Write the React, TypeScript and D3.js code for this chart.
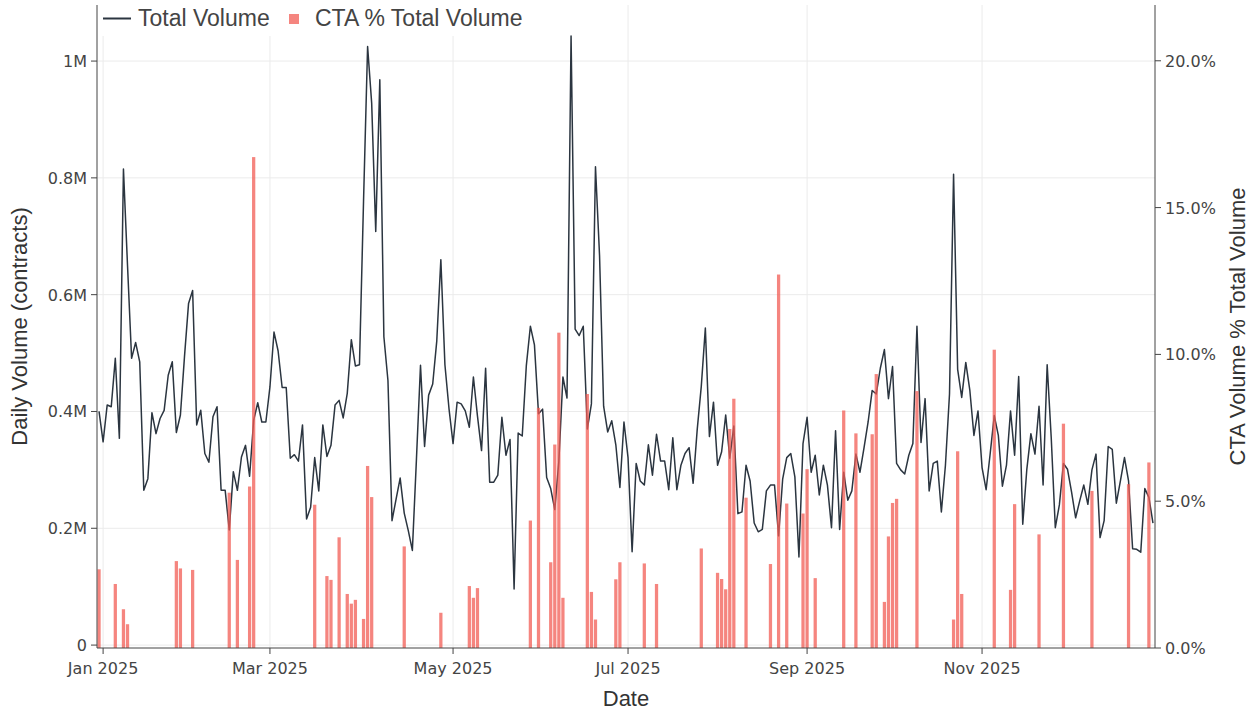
import React from "react";
import * as d3 from "d3";

// ---------- data ----------
const FIRST_DAY = new Date(2024, 11, 31);
const LAST_DAY = new Date(2025, 11, 29);
// weekday slots (weekends removed on the axis)
const tradingDays: Date[] = d3.timeDay
  .range(FIRST_DAY, d3.timeDay.offset(LAST_DAY, 1))
  .filter((d) => d.getDay() !== 0 && d.getDay() !== 6);

// Total daily volume, millions of contracts
const totalVolumeM: number[] = [
  0.400, 0.348, 0.411, 0.408, 0.491, 0.354, 0.815, 0.650, 0.491, 0.518,
  0.485, 0.265, 0.285, 0.398, 0.362, 0.388, 0.402, 0.462, 0.485, 0.364,
  0.394, 0.494, 0.585, 0.607, 0.377, 0.402, 0.328, 0.313, 0.391, 0.408,
  0.265, 0.265, 0.197, 0.297, 0.265, 0.322, 0.342, 0.289, 0.385, 0.415,
  0.382, 0.382, 0.442, 0.536, 0.504, 0.441, 0.441, 0.320, 0.326, 0.315,
  0.377, 0.216, 0.236, 0.321, 0.264, 0.377, 0.323, 0.342, 0.411, 0.419,
  0.389, 0.431, 0.523, 0.478, 0.480, 0.760, 1.025, 0.928, 0.708, 0.968,
  0.528, 0.453, 0.213, 0.250, 0.286, 0.226, 0.196, 0.162, 0.318, 0.479,
  0.340, 0.428, 0.447, 0.521, 0.660, 0.480, 0.405, 0.345, 0.416, 0.413,
  0.401, 0.373, 0.459, 0.392, 0.333, 0.474, 0.279, 0.279, 0.291, 0.390,
  0.325, 0.352, 0.096, 0.363, 0.358, 0.478, 0.546, 0.514, 0.396, 0.404,
  0.287, 0.268, 0.232, 0.315, 0.459, 0.423, 1.043, 0.541, 0.530, 0.546,
  0.370, 0.413, 0.819, 0.667, 0.409, 0.365, 0.384, 0.343, 0.270, 0.382,
  0.321, 0.160, 0.311, 0.281, 0.274, 0.343, 0.291, 0.361, 0.315, 0.315,
  0.266, 0.355, 0.266, 0.308, 0.328, 0.338, 0.277, 0.369, 0.443, 0.543,
  0.357, 0.416, 0.308, 0.331, 0.394, 0.320, 0.375, 0.225, 0.228, 0.308,
  0.281, 0.209, 0.194, 0.198, 0.264, 0.274, 0.274, 0.187, 0.284, 0.321,
  0.328, 0.288, 0.151, 0.345, 0.390, 0.296, 0.325, 0.257, 0.308, 0.274,
  0.201, 0.367, 0.198, 0.296, 0.248, 0.264, 0.327, 0.296, 0.338, 0.382,
  0.436, 0.430, 0.474, 0.506, 0.422, 0.477, 0.311, 0.300, 0.293, 0.325,
  0.345, 0.546, 0.347, 0.422, 0.264, 0.311, 0.315, 0.228, 0.308, 0.430,
  0.806, 0.472, 0.424, 0.484, 0.436, 0.359, 0.401, 0.304, 0.266, 0.328,
  0.393, 0.359, 0.272, 0.308, 0.401, 0.325, 0.460, 0.207, 0.301, 0.362,
  0.327, 0.409, 0.274, 0.480, 0.355, 0.201, 0.240, 0.311, 0.301, 0.262,
  0.218, 0.247, 0.274, 0.241, 0.300, 0.327, 0.184, 0.213, 0.340, 0.335,
  0.243, 0.281, 0.321, 0.281, 0.165, 0.164, 0.159, 0.268, 0.253, 0.209,
];

const ctaDates: string[] = [
  "2024-12-31", "2025-01-06", "2025-01-08", "2025-01-09", "2025-01-27", "2025-01-28",
  "2025-01-31", "2025-02-13", "2025-02-17", "2025-02-20", "2025-02-21", "2025-03-14",
  "2025-03-19", "2025-03-20", "2025-03-24", "2025-03-26", "2025-03-27", "2025-03-28",
  "2025-04-01", "2025-04-02", "2025-04-03", "2025-04-15", "2025-04-28", "2025-05-07",
  "2025-05-08", "2025-05-09", "2025-05-28", "2025-05-30", "2025-06-04", "2025-06-05",
  "2025-06-06", "2025-06-09", "2025-06-17", "2025-06-18", "2025-06-19", "2025-06-26",
  "2025-06-27", "2025-07-07", "2025-07-10", "2025-07-25", "2025-07-31", "2025-08-01",
  "2025-08-04", "2025-08-05", "2025-08-06", "2025-08-11", "2025-08-19", "2025-08-21",
  "2025-08-25", "2025-08-29", "2025-09-01", "2025-09-03", "2025-09-12", "2025-09-17",
  "2025-09-23", "2025-09-24", "2025-09-26", "2025-09-29", "2025-09-30", "2025-10-01",
  "2025-10-08", "2025-10-21", "2025-10-22", "2025-10-23", "2025-11-04", "2025-11-10",
  "2025-11-11", "2025-11-19", "2025-11-27", "2025-12-08", "2025-12-19", "2025-12-26",
];
// CTA volume as % of total volume
const ctaPct: number[] = [
  2.68, 2.18, 1.32, 0.81, 2.96, 2.71,
  2.66, 5.29, 3.0, 5.5, 16.72, 4.88,
  2.45, 2.32, 3.77, 1.84, 1.51, 1.64,
  0.99, 6.2, 5.14, 3.46, 1.2, 2.11,
  1.71, 2.04, 4.34, 8.18, 2.92, 6.93,
  10.74, 1.71, 8.65, 1.91, 0.97, 2.34,
  2.92, 2.88, 2.18, 3.39, 2.56, 2.35,
  2.0, 7.46, 8.49, 5.12, 2.86, 12.72,
  4.92, 4.58, 6.09, 2.38, 8.09, 7.31,
  7.28, 9.33, 1.57, 3.8, 4.94, 5.08,
  8.75, 0.97, 6.7, 1.84, 10.16, 1.98,
  4.9, 3.87, 7.64, 5.35, 5.58, 6.32,
];

const leftTickValues = [0, 0.2, 0.4, 0.6, 0.8, 1];
const leftTickLabels = ["0", "0.2M", "0.4M", "0.6M", "0.8M", "1M"];
const rightTickValues = [0, 5, 10, 15, 20];
const rightTickLabels = ["0.0%", "5.0%", "10.0%", "15.0%", "20.0%"];
const monthTickDates = ["2025-01-01", "2025-03-01", "2025-05-01", "2025-07-01", "2025-09-01", "2025-11-01"];
const monthTickLabels = ["Jan 2025", "Mar 2025", "May 2025", "Jul 2025", "Sep 2025", "Nov 2025"];

// ---------- layout ----------
const W = 1252;
const H = 710;
const PL = 97;
const PR = 1155;
const PT = 5;
const PB = 648;

const LINE_COLOR = "#2b3540";
const BAR_COLOR = "#F25C54";
const AXIS_COLOR = "#444";
const GRID_COLOR = "#ebebeb";
const TICK_FONT = "'DejaVu Sans', Verdana, sans-serif";
const TITLE_FONT = "'Liberation Sans', Arial, sans-serif";

const parse = d3.timeParse("%Y-%m-%d");
const ORIGIN = new Date(2024, 11, 30); // a Monday
// index of weekday slot, 0 = Jan 1 2025
function slot(d: Date): number {
  const n = d3.timeDay.count(ORIGIN, d);
  const w = Math.floor(n / 7);
  const dow = n % 7;
  return w * 5 + Math.min(dow, 5) - 2;
}
function tickSlot(d: Date): number {
  const wd = d.getDay();
  return slot(d) - (wd === 0 || wd === 6 ? 2 : 0);
}

export default function App() {
  const x = d3.scaleLinear().domain([-1.5, 258.5]).range([PL, PR]);
  const yL = d3.scaleLinear().domain([-0.005, 1.096]).range([PB, PT]);
  const yR = d3.scaleLinear().domain([0, 21.9]).range([PB, PT]);
  const slotW = x(1) - x(0);
  const barW = slotW * 0.8;

  const line = d3
    .line<number>()
    .x((_, i) => x(slot(tradingDays[i])))
    .y((v) => yL(v));
  const pathD = line(totalVolumeM.slice(0, tradingDays.length)) || "";

  const monthX = monthTickDates.map((s) => x(tickSlot(parse(s) as Date)));

  return (
    <svg
      width={W}
      height={H}
      style={{ position: "absolute", left: 0, top: 0, background: "#fff" }}
    >
      <rect x={0} y={0} width={W} height={H} fill="#fff" />
      {/* grid */}
      {leftTickValues.map((v) => (
        <line key={"gh" + v} x1={PL} x2={PR} y1={yL(v)} y2={yL(v)} stroke={GRID_COLOR} strokeWidth={1} />
      ))}
      {monthX.map((mx, i) => (
        <line key={"gv" + i} x1={mx} x2={mx} y1={PT} y2={PB} stroke={GRID_COLOR} strokeWidth={1} />
      ))}
      {/* legend background */}
      <rect x={PL + 1} y={PT} width={436} height={31} fill="#fff" />

      {/* line */}
      <path d={pathD} fill="none" stroke={LINE_COLOR} strokeWidth={1.5} strokeLinejoin="round" />

      {/* bars */}
      {ctaDates.map((s, i) => {
        const d = parse(s) as Date;
        const cx = x(slot(d));
        const top = yR(ctaPct[i]);
        return (
          <rect
            key={"b" + i}
            x={cx - barW / 2}
            y={top}
            width={barW}
            height={yR(0) - top}
            fill={BAR_COLOR}
            fillOpacity={0.75}
          />
        );
      })}

      {/* axes lines */}
      <line x1={PL} x2={PL} y1={PT} y2={PB} stroke={AXIS_COLOR} strokeWidth={1} />
      <line x1={PR} x2={PR} y1={PT} y2={PB} stroke={AXIS_COLOR} strokeWidth={1} />
      <line x1={PL} x2={PR} y1={PB} y2={PB} stroke={AXIS_COLOR} strokeWidth={1} />

      {/* left ticks */}
      {leftTickValues.map((v, i) => (
        <g key={"lt" + i}>
          <line x1={PL - 6} x2={PL} y1={yL(v)} y2={yL(v)} stroke={AXIS_COLOR} />
          <text
            x={PL - 10}
            y={yL(v) + 6}
            textAnchor="end"
            fontFamily={TICK_FONT}
            fontSize={16}
            fill="#444"
          >
            {leftTickLabels[i]}
          </text>
        </g>
      ))}
      {/* right ticks */}
      {rightTickValues.map((v, i) => (
        <g key={"rt" + i}>
          <line x1={PR} x2={PR + 6} y1={yR(v)} y2={yR(v)} stroke={AXIS_COLOR} />
          <text
            x={PR + 10}
            y={yR(v) + 6}
            textAnchor="start"
            fontFamily={TICK_FONT}
            fontSize={16}
            fill="#444"
          >
            {rightTickLabels[i]}
          </text>
        </g>
      ))}
      {/* bottom ticks */}
      {monthX.map((mx, i) => (
        <g key={"bt" + i}>
          <line x1={mx} x2={mx} y1={PB} y2={PB + 6} stroke={AXIS_COLOR} />
          <text x={mx} y={674} textAnchor="middle" fontFamily={TICK_FONT} fontSize={16} fill="#444">
            {monthTickLabels[i]}
          </text>
        </g>
      ))}

      {/* axis titles */}
      <text x={(PL + PR) / 2} y={706} textAnchor="middle" fontFamily={TITLE_FONT} fontSize={22} fill="#333">
        Date
      </text>
      <text
        transform={`translate(27, ${(PT + PB) / 2}) rotate(-90)`}
        textAnchor="middle"
        fontFamily={TITLE_FONT}
        fontSize={22}
        fill="#333"
      >
        Daily Volume (contracts)
      </text>
      <text
        transform={`translate(1245, ${(PT + PB) / 2}) rotate(-90)`}
        textAnchor="middle"
        fontFamily={TITLE_FONT}
        fontSize={22}
        fill="#333"
      >
        CTA Volume % Total Volume
      </text>

      {/* legend */}
      <line x1={103} x2={131} y1={18.5} y2={18.5} stroke={LINE_COLOR} strokeWidth={2} />
      <text x={138} y={26} fontFamily={TITLE_FONT} fontSize={23} fill="#444">
        Total Volume
      </text>
      <rect x={289} y={14} width={10} height={10} fill={BAR_COLOR} fillOpacity={0.75} />
      <text x={315} y={26} fontFamily={TITLE_FONT} fontSize={23} fill="#444">
        CTA % Total Volume
      </text>
    </svg>
  );
}
